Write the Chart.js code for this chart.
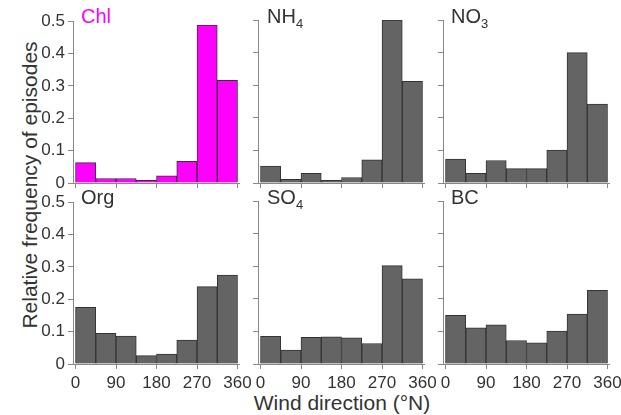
<!DOCTYPE html>
<html>
<head>
<meta charset="utf-8">
<script src="https://cdn.jsdelivr.net/npm/chart.js@4"></script>
<style>
  body { margin: 0; background: #fff; }
  #wrap { position: relative; width: 621px; height: 415px; font-family: "Liberation Sans", Arial, sans-serif; color: #333; }
  canvas { position: absolute; }
  .lbl { position: absolute; font-size: 20px; line-height: 20px; white-space: nowrap; }
  .lbl sub { font-size: 13px; vertical-align: -5px; }
  .title { position: absolute; width: 400px; height: 22px; font-size: 21px; line-height: 22px; white-space: nowrap; text-align: center; }
</style>
</head>
<body>
<div id="wrap">
  <div class="title" style="left:-170px; top:174px; transform: rotate(-90deg);">Relative frequency of episodes</div>
  <div class="title" style="left:142px; top:392px;">Wind direction (°N)</div>
</div>
<script>
// bin centres (45° bins) and tick values
const binCentres = [22.5, 67.5, 112.5, 157.5, 202.5, 247.5, 292.5, 337.5];
const xTicks = [0, 90, 180, 270, 360];
const yTicks = [0, 0.1, 0.2, 0.3, 0.4, 0.5];

// relative frequency per species
const chl = [0.063, 0.014, 0.014, 0.008, 0.022, 0.067, 0.488, 0.317];
const nh4 = [0.052, 0.011, 0.030, 0.008, 0.017, 0.071, 0.500, 0.312];
const no3 = [0.073, 0.030, 0.069, 0.044, 0.044, 0.101, 0.400, 0.242];
const org = [0.175, 0.095, 0.086, 0.026, 0.031, 0.074, 0.239, 0.275];
const so4 = [0.085, 0.043, 0.082, 0.083, 0.080, 0.063, 0.302, 0.261];
const bc  = [0.149, 0.111, 0.120, 0.072, 0.065, 0.101, 0.153, 0.226];

const panels = [
    { label: 'Chl', vals: chl, col: 0, row: 0, fill: '#ff00ff', text: '#ff00ff' },
    { label: 'NH<sub>4</sub>', vals: nh4, col: 1, row: 0, fill: '#646464', text: '#333' },
    { label: 'NO<sub>3</sub>', vals: no3, col: 2, row: 0, fill: '#646464', text: '#333' },
    { label: 'Org', vals: org, col: 0, row: 1, fill: '#646464', text: '#333' },
    { label: 'SO<sub>4</sub>', vals: so4, col: 1, row: 1, fill: '#646464', text: '#333' },
    { label: 'BC', vals: bc, col: 2, row: 1, fill: '#646464', text: '#333' }
];

const colLeft = [72.5, 257.5, 442.5];
const rowTop = [20, 201];
const labelLeft = [81, 267, 451];
const AREA_W = 166, AREA_H = 163;
const YW = 48, PT = 12, PR = 18;
const axisColor = '#888';

const wrap = document.getElementById('wrap');

panels.forEach(p => {
    const XH = p.row === 1 ? 30 : 14;
    const canvas = document.createElement('canvas');
    canvas.width = YW + AREA_W + PR;
    canvas.height = PT + AREA_H + XH;
    canvas.style.left = (colLeft[p.col] - YW) + 'px';
    canvas.style.top = (rowTop[p.row] - PT) + 'px';
    wrap.appendChild(canvas);

    const lbl = document.createElement('div');
    lbl.className = 'lbl';
    lbl.style.left = labelLeft[p.col] + 'px';
    lbl.style.top = (rowTop[p.row] - 14) + 'px';
    lbl.style.color = p.text;
    lbl.innerHTML = p.label;
    wrap.appendChild(lbl);

    new Chart(canvas.getContext('2d'), {
        type: 'bar',
        data: {
            datasets: [{
                data: binCentres.map((x, i) => ({ x: x, y: p.vals[i] })),
                backgroundColor: p.fill,
                borderColor: '#333',
                borderWidth: 1,
                barPercentage: 1,
                categoryPercentage: 1
            }]
        },
        options: {
            responsive: false,
            animation: false,
            layout: { padding: { top: PT, right: PR, left: 0, bottom: 0 } },
            plugins: { legend: { display: false }, tooltip: { enabled: false } },
            scales: {
                x: {
                    type: 'linear',
                    offset: false,
                    min: -5.56,
                    max: 363.3,
                    afterBuildTicks: s => { s.ticks = xTicks.map(v => ({ value: v })); },
                    afterFit: s => { s.height = XH; },
                    grid: { offset: false, drawOnChartArea: false, drawTicks: true, tickLength: 5, color: axisColor },
                    border: { display: true, color: axisColor },
                    ticks: {
                        display: p.row === 1,
                        autoSkip: false,
                        maxRotation: 0,
                        padding: 4,
                        color: '#333',
                        font: { family: 'Liberation Sans', size: 17 }
                    }
                },
                y: {
                    min: 0,
                    max: 0.5,
                    afterBuildTicks: s => { s.ticks = yTicks.map(v => ({ value: v })); },
                    afterFit: s => { s.width = YW; },
                    grid: { drawOnChartArea: false, drawTicks: true, tickLength: 5, color: axisColor },
                    border: { display: true, color: axisColor },
                    ticks: {
                        display: p.col === 0,
                        padding: 3,
                        color: '#333',
                        font: { family: 'Liberation Sans', size: 17 },
                        callback: v => v === 0 ? '0' : v.toFixed(1)
                    }
                }
            }
        }
    });
});
</script>
</body>
</html>
